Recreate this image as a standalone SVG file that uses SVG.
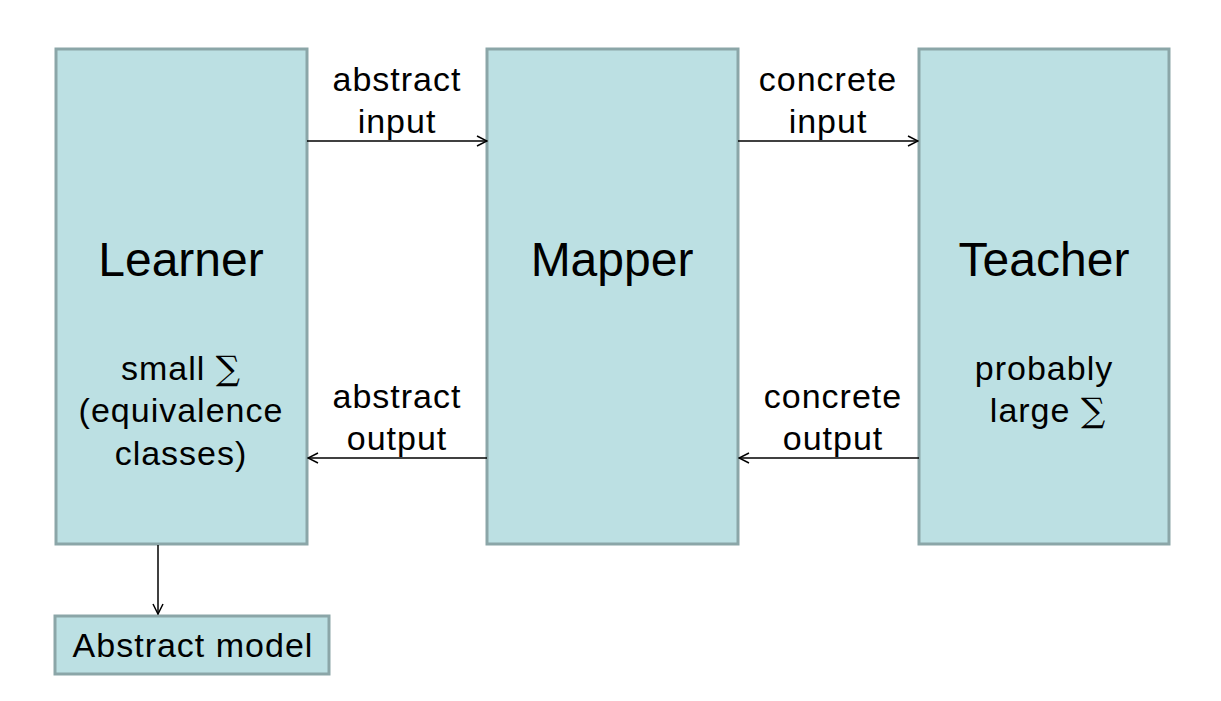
<svg xmlns="http://www.w3.org/2000/svg" width="1221" height="701" viewBox="0 0 1221 701">
<style>
.box{fill:#bce0e3;stroke:#8ba6a8;stroke-width:3}
.t{font-family:"Liberation Sans",Arial,sans-serif;fill:#000;text-anchor:middle}
.big{font-size:48px}
.lab{font-size:34px;letter-spacing:1px}
.sig{font-family:"DejaVu Serif","Liberation Serif",serif}
.c{stroke:#000;stroke-width:1.5;fill:none}
</style>
<defs>
<marker id="ah" viewBox="0 0 12 12" refX="11" refY="6" markerWidth="12" markerHeight="12" markerUnits="userSpaceOnUse" orient="auto">
<path d="M1,1 L11,6 L1,11" fill="none" stroke="#000" stroke-width="1.5"/>
</marker>
</defs>
<rect width="1221" height="701" fill="#fff"/>
<g id="learner">
<rect class="box" x="56" y="49" width="251" height="495"/>
<text class="t big" x="181" y="276">Learner</text>
<text class="t lab" x="181" y="380">small <tspan class="sig">∑</tspan></text>
<text class="t lab" x="181" y="422">(equivalence</text>
<text class="t lab" x="181" y="465">classes)</text>
</g>
<g id="mapper">
<rect class="box" x="487" y="49" width="251" height="495"/>
<text class="t big" x="612" y="276">Mapper</text>
</g>
<g id="teacher">
<rect class="box" x="919" y="49" width="250" height="495"/>
<text class="t big" x="1044" y="276">Teacher</text>
<text class="t lab" x="1044" y="380">probably</text>
<text class="t lab" x="1048" y="422">large <tspan class="sig">∑</tspan></text>
</g>
<g id="model">
<rect class="box" x="55" y="616" width="274" height="58"/>
<text class="t lab" x="193" y="657">Abstract model</text>
</g>
<g id="connectors">
<line class="c" x1="307" y1="141" x2="487" y2="141" marker-end="url(#ah)"/>
<line class="c" x1="738" y1="141" x2="918" y2="141" marker-end="url(#ah)"/>
<line class="c" x1="487" y1="458" x2="308" y2="458" marker-end="url(#ah)"/>
<line class="c" x1="919" y1="458" x2="739" y2="458" marker-end="url(#ah)"/>
<line class="c" x1="158" y1="545" x2="158" y2="614" marker-end="url(#ah)"/>
<text class="t lab" x="397" y="91">abstract</text>
<text class="t lab" x="397" y="133">input</text>
<text class="t lab" x="828" y="91">concrete</text>
<text class="t lab" x="828" y="133">input</text>
<text class="t lab" x="397" y="408">abstract</text>
<text class="t lab" x="397" y="450">output</text>
<text class="t lab" x="833" y="408">concrete</text>
<text class="t lab" x="833" y="450">output</text>
</g>
</svg>
